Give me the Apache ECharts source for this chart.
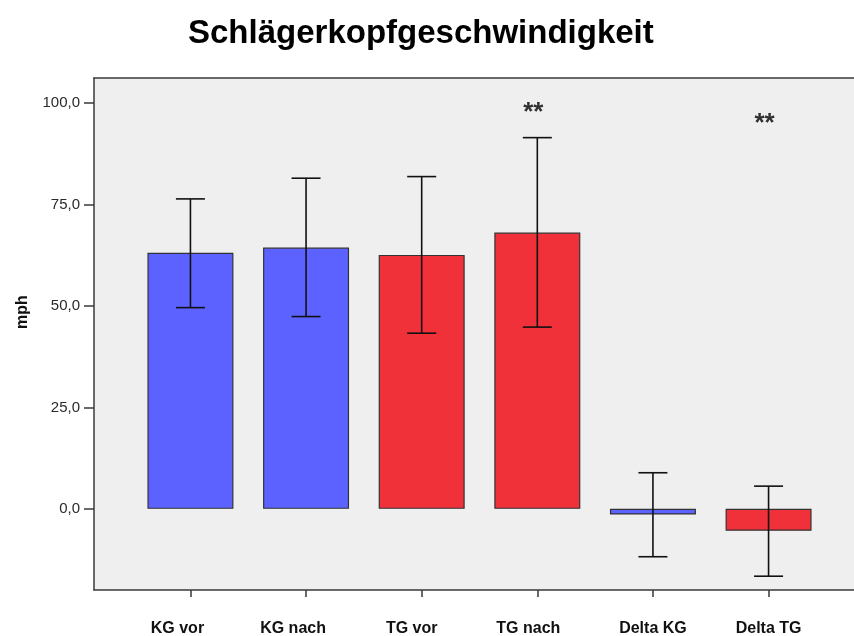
<!DOCTYPE html>
<html>
<head>
<meta charset="utf-8">
<script src="https://cdn.jsdelivr.net/npm/echarts@6/dist/echarts.min.js"></script>
<style>
  html, body { margin: 0; padding: 0; background: #ffffff; }
  #chart { width: 854px; height: 636px; }
</style>
</head>
<body>
<div id="chart"></div>
<script>
// Mean club-head speed (mph) with 95% confidence intervals
const categories = ['KG vor', 'KG nach', 'TG vor', 'TG nach', 'Delta KG', 'Delta TG'];
const groups     = ['KG', 'KG', 'TG', 'TG', 'KG', 'TG'];
const means      = [63.1, 64.4, 62.6, 68.1, -1.4, -5.4];
const ciLower    = [49.6, 47.4, 43.3, 44.8, -11.8, -16.6];
const ciUpper    = [76.4, 81.5, 81.9, 91.5, 8.9, 5.6];
const yTicks     = [0, 25, 50, 75, 100];

// significance markers: category index, marker text, value height of the marker
const sigIndex   = [3, 5];
const sigText    = ['**', '**'];
const sigValue   = [99.0, 96.5];

const groupColor = { KG: '#5c62ff', TG: '#f1313a' };
// small left shifts of the category labels (px)
const labelShift = [13, 13, 10, 9, 0, 0];

const xIdx = categories.map((_, i) => i);
const frameColor = '#3a3a3a';
const xMin = -0.834, xMax = 5.834;

const rich = {};
labelShift.forEach((s, i) => {
  rich['c' + i] = {
    fontFamily: 'Liberation Sans, Arial, sans-serif',
    fontWeight: 'bold',
    fontSize: 16,
    color: '#111',
    padding: [0, 2 * s, 0, 0]
  };
});

const chart = echarts.init(document.getElementById('chart'), null, { renderer: 'canvas' });

chart.setOption({
  animation: false,
  backgroundColor: '#ffffff',
  title: {
    text: 'Schlägerkopfgeschwindigkeit',
    left: 183,
    top: 12,
    textStyle: {
      fontFamily: 'Liberation Sans, Arial, sans-serif',
      fontWeight: 'bold',
      fontSize: 33,
      color: '#000'
    }
  },
  graphic: [{
    type: 'text',
    x: 23,
    y: 312,
    rotation: Math.PI / 2,
    style: {
      text: 'mph',
      align: 'center',
      verticalAlign: 'middle',
      font: 'bold 16px "Liberation Sans", Arial, sans-serif',
      fill: '#111'
    }
  }],
  grid: {
    left: 94,
    top: 78,
    width: 771,
    height: 512,
    outerBoundsMode: 'none',
    show: true,
    backgroundColor: '#efefef',
    borderWidth: 0
  },
  xAxis: [
    {
      type: 'value',
      position: 'bottom',
      min: xMin,
      max: xMax,
      splitLine: { show: false },
      axisLine: { show: true, onZero: false, lineStyle: { color: frameColor, width: 1.5 } },
      axisTick: {
        show: true,
        customValues: xIdx,
        length: 7,
        lineStyle: { color: frameColor, width: 1.5 }
      },
      axisLabel: {
        customValues: xIdx,
        margin: 31,
        formatter: v => '{c' + v + '|' + categories[v] + '}',
        rich: rich
      }
    },
    {
      // top edge of the plot frame
      type: 'value',
      position: 'top',
      min: xMin,
      max: xMax,
      splitLine: { show: false },
      axisLine: { show: true, onZero: false, lineStyle: { color: frameColor, width: 1.5 } },
      axisTick: { show: false },
      axisLabel: { show: false }
    }
  ],
  yAxis: {
    type: 'value',
    min: -20,
    max: 106.2,
    splitLine: { show: false },
    axisLine: { show: true, onZero: false, lineStyle: { color: frameColor, width: 1.5 } },
    axisTick: {
      show: true,
      customValues: yTicks,
      length: 10,
      lineStyle: { color: frameColor, width: 1.5 }
    },
    axisLabel: {
      customValues: yTicks,
      margin: 14,
      fontFamily: 'Liberation Sans, Arial, sans-serif',
      fontSize: 15,
      color: '#2a2a2a',
      formatter: v => v.toFixed(1).replace('.', ',')
    }
  },
  series: [
    {
      type: 'bar',
      barWidth: 86,
      data: means.map((m, i) => ({
        value: [i, m],
        itemStyle: {
          color: groupColor[groups[i]],
          borderColor: '#333',
          borderWidth: 1.2
        }
      })),
      z: 2
    },
    {
      // confidence interval whiskers
      type: 'custom',
      data: xIdx.map(i => [i, ciLower[i], ciUpper[i]]),
      renderItem: (params, api) => {
        const x = api.value(0);
        const lo = api.coord([x, api.value(1)]);
        const hi = api.coord([x, api.value(2)]);
        const half = 14.5;
        const style = { stroke: '#111', lineWidth: 1.6 };
        return {
          type: 'group',
          children: [
            { type: 'line', shape: { x1: lo[0], y1: lo[1], x2: hi[0], y2: hi[1] }, style },
            { type: 'line', shape: { x1: hi[0] - half, y1: hi[1], x2: hi[0] + half, y2: hi[1] }, style },
            { type: 'line', shape: { x1: lo[0] - half, y1: lo[1], x2: lo[0] + half, y2: lo[1] }, style }
          ]
        };
      },
      z: 3
    },
    {
      // significance markers
      type: 'scatter',
      symbolSize: 0,
      data: sigIndex.map((idx, k) => ({ value: [idx, sigValue[k]], name: sigText[k] })),
      label: {
        show: true,
        position: 'inside',
        formatter: p => p.name,
        fontFamily: 'Liberation Sans, Arial, sans-serif',
        fontWeight: 'bold',
        fontSize: 26,
        color: '#000',
        offset: [-4, 6]
      },
      z: 4
    }
  ]
});
</script>
</body>
</html>
